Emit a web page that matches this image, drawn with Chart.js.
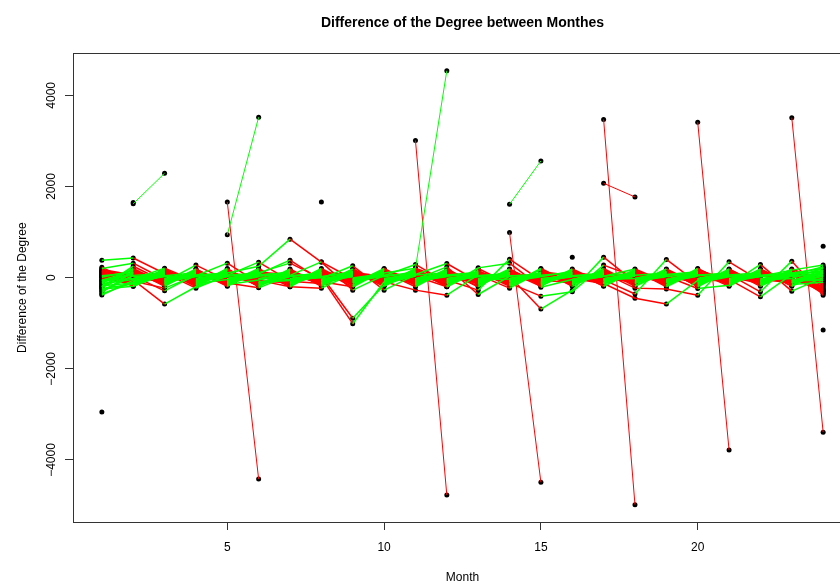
<!DOCTYPE html>
<html>
<head>
<meta charset="utf-8">
<script src="https://cdn.jsdelivr.net/npm/chart.js@4.4.1/dist/chart.umd.min.js"></script>
<style>
html,body{margin:0;padding:0;background:#fff;overflow:hidden}
#wrap{width:880px;height:584px}
</style>
</head>
<body>
<div id="wrap"><canvas id="myChart" width="880" height="584"></canvas></div>
<script>
var months=[1,2,3,4,5,6,7,8,9,10,11,12,13,14,15,16,17,18,19,20,21,22,23,24];
var xTicks=[5,10,15,20];
var yTicks=[-4000,-2000,0,2000,4000];

// difference of degree per node, month 1..24 (dense band around 0)
var b01=[380,430,90,-60,110,-40,70,-120,50,20,-80,130,-30,60,-110,40,90,-70,30,-20,120,-90,60,150];
var b02=[200,318,-40,80,-100,130,-60,20,110,-70,40,-20,90,-130,60,-50,30,100,-80,70,-30,50,-120,90];
var b03=[-380,-60,120,-20,70,-110,40,90,-30,60,-140,80,20,-60,100,-90,50,-20,130,-40,80,-100,30,-200];
var b04=[-300,40,-290,60,-20,90,-130,50,10,-80,120,-40,70,30,-100,60,-20,80,-60,110,-50,20,90,-340];
var b05=[-250,-187,70,-110,40,-30,100,-70,80,-20,60,-120,40,90,-30,20,-110,60,-40,80,10,-70,110,-120];
var b06=[150,-30,208,-80,60,20,-90,110,-50,80,-20,70,-100,40,60,-130,90,-30,50,-60,100,-20,40,60];
var b07=[-200,250,-90,275,-60,70,30,-100,120,-40,90,-70,50,-20,80,40,-60,110,-90,30,-50,130,-70,-60];
var b08=[60,-80,-230,40,318,-120,60,30,-90,110,-30,50,-70,120,-40,80,-20,-90,60,-30,70,-40,100,200];
var b09=[-150,-150,100,-230,50,340,-70,90,-40,20,130,-60,80,-50,30,-100,70,40,-120,90,-20,60,-30,-250];
var b10=[100,-50,-580,-200,30,80,384,-60,100,-90,40,20,-110,70,-60,90,-40,120,-20,-70,50,-110,80,10];
var b11=[-100,90,-20,60,-120,-224,50,347,-30,70,-100,40,110,-90,20,-40,130,-60,80,40,-110,70,-50,-30];
var b12=[20,-110,70,-40,100,250,845,340,-274,50,80,-90,30,60,-120,70,-30,50,100,-80,40,-20,-90,120];
var b13=[-50,60,-130,90,-40,110,318,-20,260,-274,60,100,-50,-30,90,-60,20,-110,70,130,-60,90,30,-150];
var b14=[170,20,80,-120,60,-60,-200,-230,90,40,290,-110,70,-80,50,110,-90,30,-50,80,20,-130,60,240];
var b15=[-20,-90,40,110,-70,30,80,40,-890,-160,70,310,-80,110,-20,40,60,-100,120,-30,-90,50,100,-80];
var b16=[-330,130,-60,20,90,-90,-40,0,-1010,-90,-274,-384,60,-20,90,-70,110,40,-60,60,90,-40,-110,40];
var b17=[80,40,-110,70,-20,60,120,-90,-200,165,-40,237,-370,30,80,-30,-80,90,40,-110,60,110,-40,-180];
var b18=[-180,-120,60,-70,140,-130,40,70,-40,100,208,-50,-274,406,-60,100,40,-80,20,90,-130,70,20,100];
var b19=[40,110,-80,130,-90,40,-110,120,60,-120,30,-200,215,318,-210,-40,70,60,-100,40,110,-60,130,-280];
var b20=[-130,-40,150,-50,80,-20,60,-40,110,30,-90,70,-30,30,-690,-275,450,-100,90,-50,30,80,-80,170];
var b21=[120,70,-30,100,-130,90,-20,60,-70,120,-60,30,90,-120,-406,-311,275,20,-40,120,-70,40,60,-10];
var b22=[-60,-20,110,-90,20,-40,90,-110,30,-60,100,-30,60,-230,128,50,-128,-450,-580,-60,80,-90,40,-220];
var b23=[10,150,-50,30,110,-100,-60,80,-120,60,-20,120,-90,50,20,143,-50,-360,400,-120,20,60,-100,50];
var b24=[-280,50,90,-130,-40,120,70,-80,40,-30,110,-100,40,80,-80,20,100,-230,-250,-384,347,-70,90,130];
var b25=[140,-70,20,60,100,-70,-120,50,-10,90,-110,60,120,-40,110,-100,30,190,-100,165,-40,-420,70,-350];
var b26=[-220,100,-120,40,-60,60,110,-30,80,-100,50,-70,20,100,-90,60,-110,70,30,-237,-165,290,-296,0];
var b27=[-10,-130,40,-20,70,-160,20,110,-70,40,-30,90,-130,60,40,-80,60,-40,110,-20,70,-311,362,-384];
var b28=[-80,80,-70,120,-110,20,-80,-130,70,-50,90,-40,60,-70,100,30,-60,120,-90,60,-100,30,165,275];
var b29=[-360,-100,130,-40,50,100,-30,60,-90,130,-70,20,-40,110,-50,-110,90,-60,60,-80,120,-50,-20,-300];
var b30=[60,30,-90,80,-150,-50,100,-60,20,-40,60,-130,100,-30,70,-20,-130,100,-70,50,-30,100,-60,90];
var b31=[-240,-140,60,-100,120,-10,-50,130,-110,70,-120,90,-20,80,-110,120,-40,-20,90,-100,60,-80,120,-260];
var b32=[180,60,-20,90,-30,150,-90,20,130,-120,80,-60,110,-100,50,-50,120,-110,50,100,-80,140,-20,210];
var b33=[-120,190,-170,150,-190,180,-150,200,-160,120,-200,170,-130,190,-170,110,-180,160,-200,140,-160,190,-150,-100];
var b34=[130,-180,160,-200,170,-150,190,-170,140,-190,160,-180,200,-140,170,-190,150,-120,180,-200,150,-140,170,-40];
var b35=[-60,160,-190,180,-120,200,-180,150,-200,170,-140,190,-160,120,-190,160,-140,180,-150,130,-190,170,-120,30];
var b36=[230,-120,180,-160,200,-190,150,-130,190,-150,200,-170,140,-190,120,-160,200,-170,140,-180,190,-160,140,-140];
var b37=[-170,120,-150,190,-180,130,-200,170,-120,190,-170,140,-190,160,-150,190,-120,150,-180,200,-140,180,-190,160];
var b38=[30,-160,190,-140,160,-180,170,-190,150,-130,180,-200,160,-170,190,-130,170,-190,120,-160,180,-150,190,-70];
var b39=[-200,200,-140,170,-150,160,-120,180,-170,200,-160,130,-200,180,-140,170,-190,140,-160,190,-120,160,-180,230];
var b40=[90,-190,130,-170,190,-200,160,-150,180,-170,150,-190,130,-160,200,-150,160,-130,190,-140,170,-190,150,-300];
var band=[b01,b02,b03,b04,b05,b06,b07,b08,b09,b10,b11,b12,b13,b14,b15,b16,b17,b18,b19,b20,
          b21,b22,b23,b24,b25,b26,b27,b28,b29,b30,b31,b32,b33,b34,b35,b36,b37,b38,b39,b40];

// big jumps: month, value in that month, value in the next month
var jumpMonth=[2,5,5,11,11,14,14,17,17,20,23];
var jumpFrom=[1620,940,1660,3010,210,1610,990,3470,2070,3410,3510];
var jumpTo=[2290,3520,-4420,-4770,4540,2560,-4490,-4980,1770,-3780,-3390];

// single points without a neighbour month
var loneMonth=[1,2,8,16,24,24];
var loneValue=[-2950,1650,1660,450,690,-1150];

var F='"Liberation Sans", Arial, sans-serif';
var GREEN='rgb(0,255,0)',RED='rgb(255,0,0)',NONE='rgba(0,0,0,0)';
function upColor(c){return c.p1.parsed.y>c.p0.parsed.y?GREEN:NONE;}
function downColor(c){return c.p1.parsed.y<c.p0.parsed.y?RED:NONE;}

var lines=[];
for(var i=0;i<band.length;i++){
    lines.push({w:1.5,pts:band[i].map(function(v,k){return {x:months[k],y:v};})});
}
for(var j=0;j<jumpMonth.length;j++){
    lines.push({w:1,pts:[{x:jumpMonth[j],y:jumpFrom[j]},{x:jumpMonth[j]+1,y:jumpTo[j]}]});
}
var dots=[];
lines.forEach(function(l){l.pts.forEach(function(p){dots.push(p);});});
loneMonth.forEach(function(m,i){dots.push({x:m,y:loneValue[i]});});

var datasets=[{data:dots,showLine:false,pointRadius:2.5,pointBackgroundColor:'#000',pointBorderWidth:0,order:3}];
lines.forEach(function(l){
    datasets.push({data:l.pts,borderWidth:l.w,pointRadius:0,borderColor:NONE,segment:{borderColor:downColor},order:2});
});
lines.forEach(function(l){
    datasets.push({data:l.pts,borderWidth:l.w,pointRadius:0,borderColor:NONE,segment:{borderColor:upColor},order:1});
});

var boxPlugin={id:'box',afterDraw:function(chart){
    var a=chart.chartArea,c=chart.ctx;
    c.save();
    c.strokeStyle='#333';c.lineWidth=1;
    c.strokeRect(Math.round(a.left)+0.5,Math.round(a.top)+0.5,Math.round(a.right-a.left),Math.round(a.bottom-a.top));
    c.restore();
}};

var tickGrid={display:true,drawOnChartArea:false,drawTicks:true,tickLength:8,color:'#333'};
var ctx=document.getElementById('myChart').getContext('2d');
var chart=new Chart(ctx,{
    type:'line',
    data:{datasets:datasets},
    plugins:[boxPlugin],
    options:{
        responsive:false,
        animation:false,
        events:[],
        layout:{padding:{left:0,right:28,top:0,bottom:0}},
        plugins:{
            legend:{display:false},
            tooltip:{enabled:false},
            title:{display:true,text:'Difference of the Degree between Monthes',fullSize:false,
                font:{family:F,size:14,weight:'bold'},color:'#000',padding:{top:15,bottom:21.5}}
        },
        scales:{
            x:{
                type:'linear',min:0.08,max:24.92,
                afterBuildTicks:function(s){s.ticks=xTicks.map(function(v){return {value:v};});},
                afterFit:function(s){s.height=62;},
                grid:tickGrid,border:{display:false},
                ticks:{font:{family:F,size:12},color:'#000',padding:10,maxRotation:0,autoSkip:false},
                title:{display:true,text:'Month',font:{family:F,size:12,lineHeight:1},color:'#000',padding:0}
            },
            y:{
                type:'linear',min:-5361,max:4922,
                afterBuildTicks:function(s){s.ticks=yTicks.map(function(v){return {value:v};});},
                afterFit:function(s){s.width=73;},
                grid:tickGrid,border:{display:false},
                ticks:{font:{family:F,size:12},color:'#000',padding:-4,minRotation:90,maxRotation:90,crossAlign:'center',
                    callback:function(v){return String(v).replace('-','\u2212');}},
                title:{display:true,text:'Difference of the Degree',font:{family:F,size:12},color:'#000',padding:{top:15,bottom:0}}
            }
        }
    }
});
</script>
</body>
</html>
